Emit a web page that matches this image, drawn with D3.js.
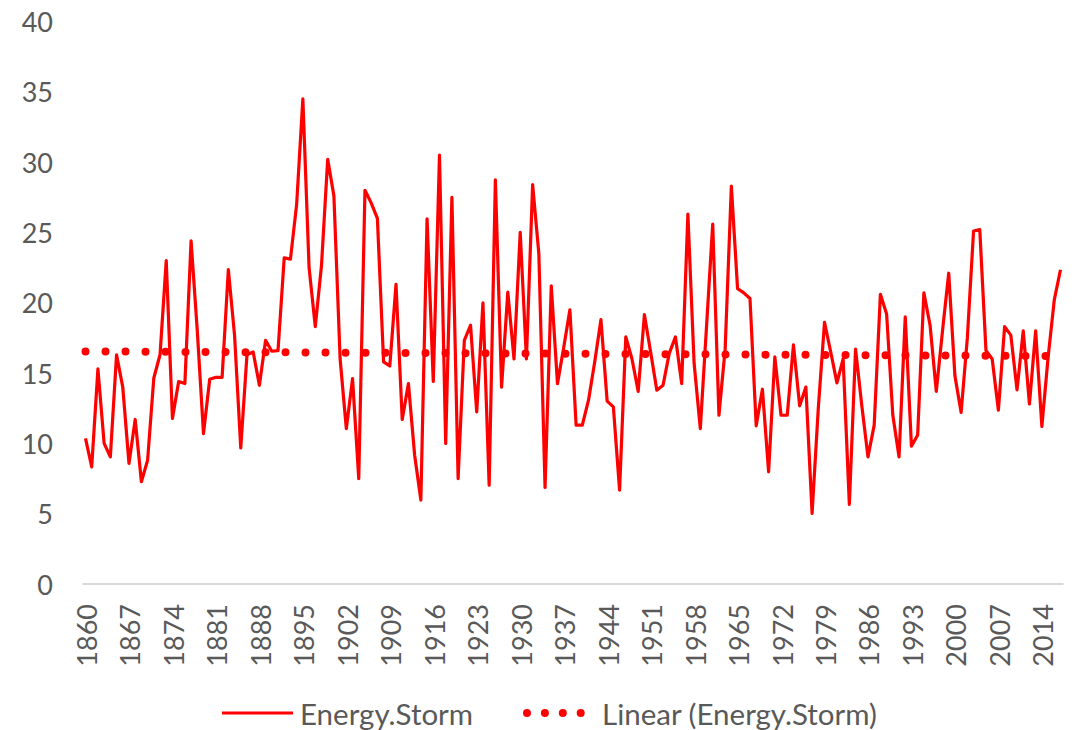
<!DOCTYPE html>
<html>
<head>
<meta charset="utf-8">
<script src="https://cdn.jsdelivr.net/npm/d3@7"></script>
<style>
  html, body { margin: 0; padding: 0; background: #fff; }
  svg { display: block; }
  text { font-family: Lato, "Open Sans", sans-serif; fill: #595959; }
</style>
</head>
<body>
<svg id="chart" width="1076" height="730"></svg>
<script>
const startYear = 1860;
const endYear = 2017;
const years = d3.range(startYear, endYear + 1);

const energyStorm = [
  10.35, 8.33, 15.3, 10.0, 9.04, 16.3, 14.0, 8.57, 11.7, 7.27,
  8.8, 14.65, 16.3, 23.0, 11.77, 14.4, 14.25, 24.4, 18.0, 10.7,
  14.56, 14.7, 14.7, 22.35, 17.7, 9.68, 16.3, 16.5, 14.13, 17.33,
  16.55, 16.6, 23.2, 23.1, 27.0, 34.5, 22.5, 18.3, 22.65, 30.2,
  27.6, 16.0, 11.05, 14.6, 7.5, 28.0, 27.1, 26.0, 15.8, 15.5,
  21.3, 11.7, 14.25, 9.16, 5.97, 25.97, 14.4, 30.5, 10.0, 27.5,
  7.5, 17.33, 18.4, 12.24, 20.0, 7.03, 28.74, 14.0, 20.76, 16.0,
  25.0, 16.0, 28.4, 23.5, 6.87, 21.2, 14.25, 16.8, 19.5, 11.3,
  11.3, 13.07, 15.8, 18.8, 13.0, 12.6, 6.68, 17.57, 16.0, 13.7,
  19.15, 16.5, 13.78, 14.13, 16.4, 17.57, 14.25, 26.3, 15.7, 11.05,
  18.3, 25.6, 12.0, 16.7, 28.3, 21.0, 20.7, 20.3, 11.25, 13.85,
  7.98, 16.15, 12.0, 12.0, 17.0, 12.67, 14.0, 5.02, 12.5, 18.6,
  16.5, 14.3, 16.0, 5.66, 16.7, 12.7, 9.04, 11.3, 20.6, 19.2,
  12.0, 9.04, 19.0, 9.8, 10.6, 20.7, 18.4, 13.7, 18.0, 22.1,
  14.8, 12.2, 17.5, 25.1, 25.2, 16.6, 16.0, 12.36, 18.3, 17.7,
  13.8, 18.0, 12.8, 18.0, 11.2, 16.1, 20.2, 22.35
];

const yTicks = [0, 5, 10, 15, 20, 25, 30, 35, 40];
const xTickYears = d3.range(1860, 2015, 7);
const seriesName = "Energy.Storm";
const trendName = "Linear (Energy.Storm)";

const data = years.map((y, i) => ({ year: y, value: energyStorm[i] }));

// least-squares linear trend (as in Excel's "Linear" trendline)
const xs = data.map((d, i) => i + 1);
const mx = d3.mean(xs), my = d3.mean(data, d => d.value);
const slope = d3.sum(data, (d, i) => (xs[i] - mx) * (d.value - my)) / d3.sum(xs, x => (x - mx) ** 2);
const intercept = my - slope * mx;
const trend = data.map((d, i) => ({ year: d.year, value: intercept + slope * xs[i] }));

const svg = d3.select("#chart");
const color = "#FF0000";

const x = d3.scalePoint().domain(years).range([82.4, 1063.6]).padding(0.5);
const y = d3.scaleLinear().domain([0, 40]).range([584, 21.5]);

// y labels
svg.append("g").selectAll("text").data(yTicks).join("text")
  .attr("x", 53).attr("y", d => y(d))
  .attr("text-anchor", "end").attr("dominant-baseline", "central")
  .style("font-size", "27px")
  .text(d => d);

// baseline
svg.append("line")
  .attr("x1", 82.4).attr("x2", 1063.6)
  .attr("y1", y(0)).attr("y2", y(0))
  .attr("stroke", "#D9D9D9").attr("stroke-width", 2);

// x labels rotated
svg.append("g").selectAll("text").data(xTickYears).join("text")
  .attr("transform", d => `translate(${x(d) + 1},604) rotate(-90)`)
  .attr("text-anchor", "end").attr("dominant-baseline", "central")
  .style("font-size", "27px")
  .text(d => d);

// series line
const line = d3.line().x(d => x(d.year)).y(d => y(d.value));
svg.append("path").datum(data)
  .attr("d", line)
  .attr("fill", "none").attr("stroke", color)
  .attr("stroke-width", 3.2).attr("stroke-linejoin", "round");

// trend line (round dots)
svg.append("path").datum(trend)
  .attr("d", line)
  .attr("fill", "none").attr("stroke", color)
  .attr("stroke-width", 8).attr("stroke-linecap", "round")
  .attr("stroke-dasharray", "0 20");

// legend
const lg = svg.append("g");
lg.append("line").attr("x1", 222).attr("x2", 293).attr("y1", 713).attr("y2", 713)
  .attr("stroke", color).attr("stroke-width", 3.2);
lg.append("text").attr("x", 300).attr("y", 713).attr("dominant-baseline", "central")
  .style("font-size", "29.5px").text(seriesName);
lg.append("line").attr("x1", 527).attr("x2", 581.5).attr("y1", 713).attr("y2", 713)
  .attr("stroke", color).attr("stroke-width", 8).attr("stroke-linecap", "round")
  .attr("stroke-dasharray", "0 17.9");
lg.append("text").attr("x", 602).attr("y", 713).attr("dominant-baseline", "central")
  .style("font-size", "29.5px").text(trendName);
</script>
</body>
</html>
